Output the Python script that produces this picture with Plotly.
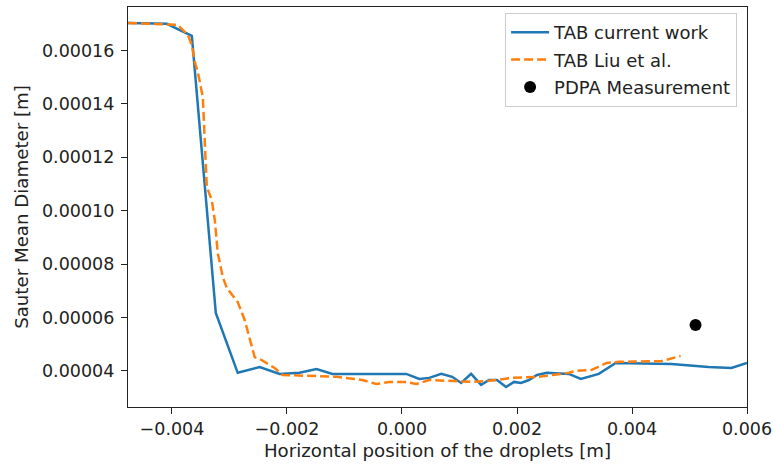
import plotly.graph_objects as go

# TAB current work (blue solid)
tab_x = [-0.004765, -0.004088, -0.003828, -0.003655, -0.003238, -0.002857, -0.002475,
         -0.002128, -0.001782, -0.001487, -0.001209, -0.000740, -0.000300, 0.000075,
         0.000300, 0.000474, 0.000682, 0.000873, 0.001029, 0.001202, 0.001376, 0.001514,
         0.001653, 0.001809, 0.001948, 0.002069, 0.002208, 0.002347, 0.002520, 0.002902,
         0.003110, 0.003249, 0.003422, 0.003717, 0.004289, 0.004688, 0.005330, 0.005729,
         0.006000]
tab_y = [1.703e-4, 1.700e-4, 1.673e-4, 1.655e-4, 6.17e-5, 3.93e-5, 4.15e-5,
         3.89e-5, 3.93e-5, 4.07e-5, 3.89e-5, 3.89e-5, 3.89e-5, 3.89e-5,
         3.70e-5, 3.74e-5, 3.89e-5, 3.78e-5, 3.55e-5, 3.89e-5, 3.48e-5, 3.66e-5,
         3.66e-5, 3.40e-5, 3.59e-5, 3.55e-5, 3.66e-5, 3.85e-5, 3.93e-5, 3.89e-5,
         3.70e-5, 3.78e-5, 3.89e-5, 4.30e-5, 4.26e-5, 4.26e-5, 4.15e-5, 4.11e-5,
         4.30e-5]

# TAB Liu et al. (orange dashed)
liu_x = [-0.004765, -0.003898, -0.003724, -0.003655, -0.003603, -0.003551, -0.003464,
         -0.003395, -0.003308, -0.003256, -0.003204, -0.003117, -0.003048, -0.002857,
         -0.002736, -0.002562, -0.002441, -0.002354, -0.002215, -0.002077, -0.001140,
         -0.000689, -0.000446, -0.000220, 0.000075, 0.000248, 0.000474, 0.001220,
         0.001514, 0.001913, 0.002381, 0.002902, 0.003023, 0.003301, 0.003561, 0.003769,
         0.004515, 0.004845]
liu_y = [1.703e-4, 1.696e-4, 1.658e-4, 1.621e-4, 1.557e-4, 1.520e-4, 1.426e-4,
         1.089e-4, 1.040e-4, 9.65e-5, 8.42e-5, 7.52e-5, 7.11e-5, 6.58e-5,
         5.91e-5, 4.52e-5, 4.41e-5, 4.30e-5, 4.11e-5, 3.85e-5, 3.78e-5,
         3.66e-5, 3.51e-5, 3.59e-5, 3.59e-5, 3.51e-5, 3.66e-5, 3.59e-5,
         3.63e-5, 3.74e-5, 3.78e-5, 3.93e-5, 4.00e-5, 4.04e-5, 4.30e-5, 4.34e-5,
         4.37e-5, 4.56e-5]

# PDPA measurement
pdpa_x = [0.005105]
pdpa_y = [5.72e-5]

fig = go.Figure()
fig.add_trace(go.Scatter(x=tab_x, y=tab_y, mode="lines", name="TAB current work",
                         legendgroup="a",
                         line=dict(color="#1f77b4", width=2.5)))
fig.add_trace(go.Scatter(x=liu_x, y=liu_y, mode="lines", name="TAB Liu et al.",
                         legendgroup="b",
                         line=dict(color="#ff7f0e", width=2.5, dash="9px,4px")))
fig.add_trace(go.Scatter(x=pdpa_x, y=pdpa_y, mode="markers", name="PDPA Measurement",
                         legendgroup="c",
                         marker=dict(color="black", size=12)))

TICK = 17.5
TITLE = 18.2
axis_common = dict(showline=True, linecolor="#222", linewidth=1.3, mirror=True,
                   ticks="outside", ticklen=6, tickwidth=1.3, tickcolor="#222",
                   showgrid=False, zeroline=False, automargin=False,
                   tickfont=dict(size=TICK, color="#222"))

fig.update_xaxes(range=[-0.004765, 0.006], dtick=0.002, tick0=0, tickformat=".3f",
                 title=dict(text="Horizontal position of the droplets [m]",
                            font=dict(size=TITLE, color="#222"), standoff=6),
                 **axis_common)
fig.update_yaxes(range=[0.0000265, 0.0001763], dtick=0.00002, tick0=0, tickformat=".5f",
                 title=dict(text="Sauter Mean Diameter [m]",
                            font=dict(size=TITLE, color="#222"), standoff=8),
                 ticklabelstandoff=3,
                 **axis_common)

fig.update_layout(
    width=773, height=468,
    margin=dict(l=128, r=26, t=7, b=61),
    plot_bgcolor="white", paper_bgcolor="white",
    font=dict(family="DejaVu Sans", size=TITLE, color="#222"),
    legend=dict(x=0.984, y=0.985, xanchor="right", yanchor="top",
                bgcolor="rgba(255,255,255,0.8)", bordercolor="#cccccc", borderwidth=1,
                font=dict(size=TITLE - 0.2), tracegroupgap=1, itemwidth=38),
    showlegend=True,
)

fig.write_html("out.html", config={"displayModeBar": False},
               post_script="document.body.style.margin='0';document.body.style.padding='0';")
